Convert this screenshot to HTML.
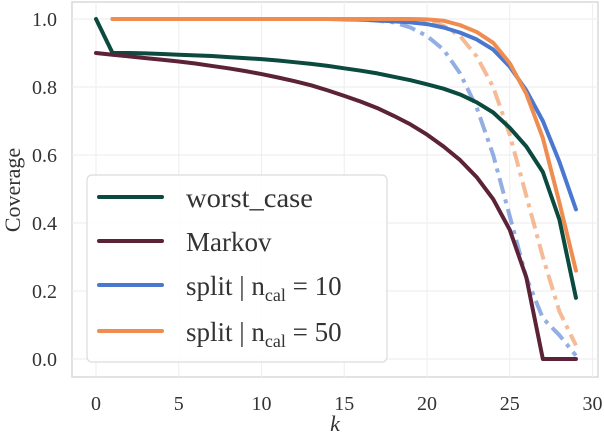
<!DOCTYPE html>
<html><head><meta charset="utf-8"><style>
body{margin:0;background:#fff}
svg text{font-family:"Liberation Serif","DejaVu Serif",serif;fill:#333}
</style></head><body>
<svg width="604" height="436" xmlns="http://www.w3.org/2000/svg">
<rect x="72" y="2" width="526" height="375" fill="#fff" stroke="#d8d8d8" stroke-width="1.5"/>
<g id="grid"></g><g id="series"></g><g id="ticks"></g>
<g>
<rect x="87" y="175" width="300" height="187" rx="5" fill="#fff" fill-opacity="0.85" stroke="#dcdcdc" stroke-width="1.2"/>
<g><line x1="99" y1="197" x2="162" y2="197" stroke="#0b4a3e" stroke-width="4" stroke-linecap="round"/><text x="186" y="207" font-size="27" textLength="127" lengthAdjust="spacingAndGlyphs">worst_case</text></g>
<g><line x1="99" y1="241" x2="162" y2="241" stroke="#5c2238" stroke-width="4" stroke-linecap="round"/><text x="186" y="251" font-size="27">Markov</text></g>
<g><line x1="99" y1="285" x2="162" y2="285" stroke="#4a78d0" stroke-width="4" stroke-linecap="round"/><text x="186" y="295" font-size="27">split | n<tspan font-size="18" dy="6">cal</tspan><tspan dy="-6"> = 10</tspan></text></g>
<g><line x1="99" y1="331" x2="162" y2="331" stroke="#ef8c50" stroke-width="4" stroke-linecap="round"/><text x="186" y="341" font-size="27">split | n<tspan font-size="18" dy="6">cal</tspan><tspan dy="-6"> = 50</tspan></text></g>
</g>
<text x="335" y="431" font-size="22" font-style="italic" text-anchor="middle">k</text>
<text transform="translate(20,190) rotate(-90)" font-size="22" text-anchor="middle">Coverage</text>
</svg>
<script>
const xTicks=[0,5,10,15,20,25,30];
const yTicks=[0.0,0.2,0.4,0.6,0.8,1.0];
const kAll=[0,1,2,3,4,5,6,7,8,9,10,11,12,13,14,15,16,17,18,19,20,21,22,23,24,25,26,27,28,29];
const worstCase=[1.0,0.9,0.9,0.899,0.897,0.895,0.893,0.891,0.888,0.885,0.882,0.878,0.873,0.868,0.862,0.855,0.848,0.84,0.83,0.82,0.808,0.795,0.778,0.755,0.725,0.68,0.625,0.55,0.41,0.18];
const markov=[0.9,0.895,0.89,0.885,0.88,0.875,0.869,0.862,0.855,0.847,0.838,0.828,0.817,0.805,0.79,0.774,0.757,0.738,0.715,0.69,0.66,0.625,0.585,0.535,0.47,0.38,0.24,0.0,0.0,0.0];
const split10=[null,1,1,1,1,1,1,1,1,1,1,1,1,1,1,0.999,0.998,0.996,0.993,0.99,0.985,0.975,0.96,0.94,0.91,0.86,0.79,0.70,0.58,0.44];
const split50=[null,1,1,1,1,1,1,1,1,1,1,1,1,1,1,1,1,1,1,1,0.999,0.995,0.982,0.962,0.93,0.87,0.78,0.65,0.46,0.26];
const split10dd=[null,1,1,1,1,1,1,1,1,1,1,1,1,1,1,1,0.998,0.995,0.99,0.975,0.95,0.91,0.84,0.74,0.6,0.42,0.24,0.12,0.07,0.01];
const split50dd=[null,1,1,1,1,1,1,1,1,1,1,1,1,1,1,1,1,1,0.999,0.998,0.995,0.98,0.95,0.89,0.80,0.66,0.48,0.3,0.14,0.04];
const NS="http://www.w3.org/2000/svg";
const X=k=>96+k*16.55, Y=v=>359-v*340;
function mk(t,a,p){const e=document.createElementNS(NS,t);for(const n in a)e.setAttribute(n,a[n]);p.appendChild(e);return e;}
const grid=document.getElementById('grid'),ticks=document.getElementById('ticks'),ser=document.getElementById('series');
xTicks.forEach(t=>{mk('line',{x1:X(t),x2:X(t),y1:2,y2:377,stroke:'#efefef','stroke-width':1.2},grid);
 const tx=mk('text',{x:X(t),y:410,'font-size':20,'text-anchor':'middle'},ticks);tx.textContent=t;
 
 });
yTicks.forEach(t=>{mk('line',{x1:72,x2:598,y1:Y(t),y2:Y(t),stroke:'#efefef','stroke-width':1.2},grid);
 const tx=mk('text',{x:57,y:Y(t)+7,'font-size':20,'text-anchor':'end'},ticks);tx.textContent=t.toFixed(1);
 
 });
function line(vals,color,name,dash,op){
 const pts=[];vals.forEach((v,i)=>{if(v!==null)pts.push(X(kAll[i])+','+Y(v));});
 const p=mk('polyline',{points:pts.join(' '),fill:'none',stroke:color,'stroke-width':4,'stroke-linejoin':'round','stroke-linecap':'round','stroke-opacity':op||1},ser);
 if(dash){p.setAttribute('stroke-dasharray','16 6 4 6');p.setAttribute('stroke-linecap','butt');}
 
 }
line(split10dd,'#4a78d0','split-10-dashdot-line',true,0.6);
line(split50dd,'#ef8c50','split-50-dashdot-line',true,0.6);
line(worstCase,'#0b4a3e','worst-case-line');
line(markov,'#5c2238','markov-line');
line(split10,'#4a78d0','split-10-line');
line(split50,'#ef8c50','split-50-line');
</script>
</body></html>
